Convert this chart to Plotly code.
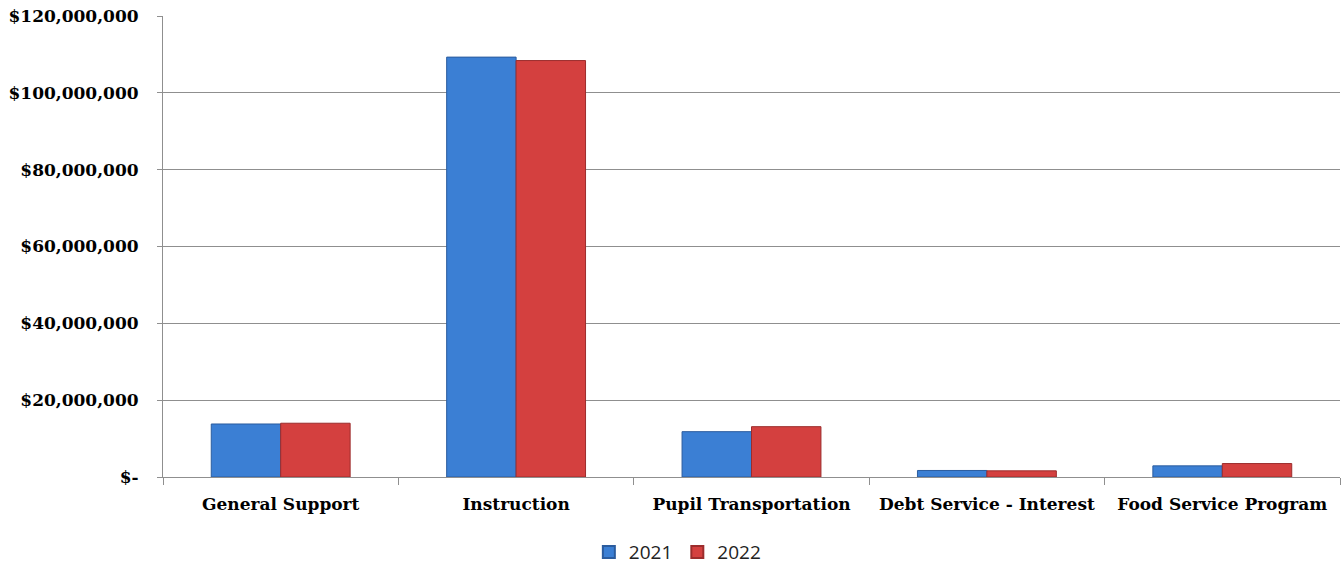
import plotly.graph_objects as go

categories = ["General Support", "Instruction", "Pupil Transportation",
              "Debt Service - Interest", "Food Service Program"]
values_2021 = [13.8e6, 109.3e6, 11.8e6, 1.7e6, 2.9e6]
values_2022 = [14.0e6, 108.4e6, 13.1e6, 1.6e6, 3.5e6]
series_names = ["2021", "2022"]
tick_vals = [0, 20e6, 40e6, 60e6, 80e6, 100e6, 120e6]
tick_text = ["$-", "$20,000,000", "$40,000,000", "$60,000,000",
             "$80,000,000", "$100,000,000", "$120,000,000"]

fig = go.Figure()
fig.add_trace(go.Bar(x=categories, y=values_2021, name=series_names[0],
                     marker=dict(color="#3b7fd4", line=dict(color="#2b5c9e", width=1))))
fig.add_trace(go.Bar(x=categories, y=values_2022, name=series_names[1],
                     marker=dict(color="#d4403f", line=dict(color="#9c2c2c", width=1))))

fig.update_layout(
    width=1344, height=566,
    margin=dict(l=163, r=4, t=16, b=89, autoexpand=False),
    paper_bgcolor="white", plot_bgcolor="white",
    barmode="group", bargap=0.41, bargroupgap=0,
    font=dict(family="DejaVu Serif", size=16, color="black"),
    legend=dict(orientation="h", x=0.437, xanchor="center",
                y=-0.163, yanchor="middle",
                font=dict(family="Open Sans", size=19, color="#222"),
                itemwidth=30, itemsizing="constant", traceorder="normal"),
    showlegend=True,
)
fig.update_yaxes(range=[0, 120e6], tickvals=tick_vals, ticktext=tick_text,
                 showgrid=True, gridcolor="#8f8f8f", gridwidth=1,
                 showline=True, linecolor="#8f8f8f", linewidth=1,
                 ticks="outside", ticklen=5, tickcolor="#8f8f8f",
                 ticklabelstandoff=15, automargin=False,
                 tickfont=dict(family="DejaVu Serif", size=17, color="black", weight="bold"),
                 zeroline=False)
fig.update_xaxes(showline=True, linecolor="#8f8f8f", linewidth=1,
                 ticks="outside", ticklen=7, tickcolor="#8f8f8f", tickson="boundaries",
                 ticklabelstandoff=12, tickangle=0, automargin=False,
                 tickfont=dict(family="DejaVu Serif", size=17, color="black", weight="bold"))

fig.write_html("out.html")
